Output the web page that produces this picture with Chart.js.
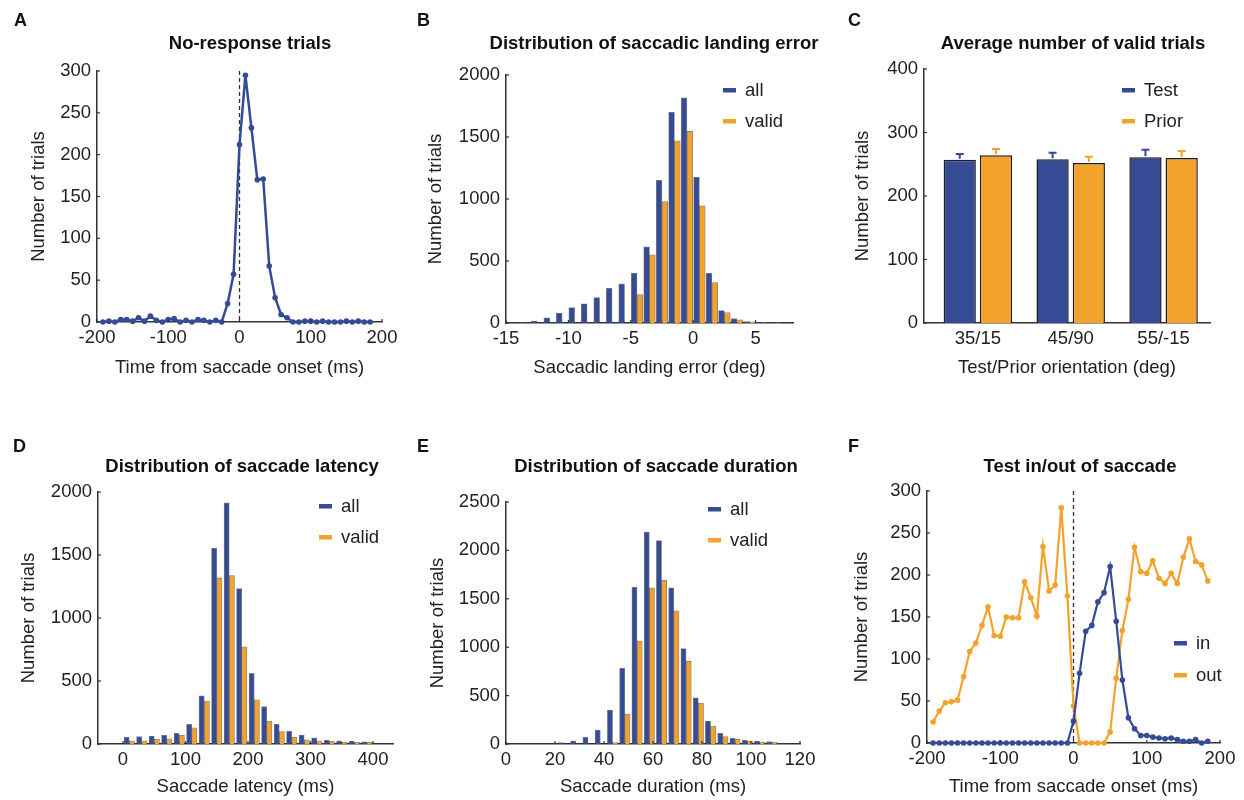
<!DOCTYPE html>
<html>
<head>
<meta charset="utf-8">
<title>Saccade task summary</title>
<script src="https://cdn.jsdelivr.net/npm/chart.js@4.4.1/dist/chart.umd.min.js"></script>
<style>
  body { margin: 0; background: #fff; }
  .panel { position: absolute; }
</style>
</head>
<body>
<div class="panel" style="left:0;top:0;width:414px;height:400px"><canvas id="chartA"></canvas></div>
<div class="panel" style="left:414px;top:0;width:414px;height:400px"><canvas id="chartB"></canvas></div>
<div class="panel" style="left:828px;top:0;width:416px;height:400px"><canvas id="chartC"></canvas></div>
<div class="panel" style="left:0;top:400px;width:414px;height:400px"><canvas id="chartD"></canvas></div>
<div class="panel" style="left:414px;top:400px;width:414px;height:400px"><canvas id="chartE"></canvas></div>
<div class="panel" style="left:828px;top:400px;width:416px;height:400px"><canvas id="chartF"></canvas></div>
<script>
const FONT = "'Liberation Sans', Arial, Helvetica, sans-serif";
const TEXT_SIZE = 18.5;
const BLUE = "#354b96";
const ORANGE = "#f3a22c";
const INK = "#222";
const AXIS = "#333";

// time bins (ms from saccade onset), shared by A and F
const timeBins = [
  -191.7, -183.3, -175, -166.7, -158.3, -150, -141.7, -133.3, -125, -116.7,
  -108.3, -100, -91.7, -83.3, -75, -66.7, -58.3, -50, -41.7, -33.3,
  -25, -16.7, -8.3, 0, 8.3, 16.7, 25, 33.3, 41.7, 50,
  58.3, 66.7, 75, 83.3, 91.7, 100, 108.3, 116.7, 125, 133.3,
  141.7, 150, 158.3, 166.7, 175, 183.3,
];

// A: no-response trials
const noResponse = [
  0, 1, 0, 3, 3, 1, 5, 1, 7, 2,
  0, 3, 4, 0, 2, 0, 3, 2, 0, 2,
  0, 22, 57, 212, 295, 232, 170, 171, 67, 29,
  9, 5, 0, 0, 1, 1, 0, 1, 0, 0,
  0, 1, 0, 1, 0, 0,
];

// B: saccadic landing error (deg)
const errorBins = [-14.5, -13.5, -12.5, -11.5, -10.5, -9.5, -8.5, -7.5, -6.5, -5.5, -4.5,
  -3.5, -2.5, -1.5, -0.5, 0.5, 1.5, 2.5, 3.5, 4.5, 5.5, 6.5];
const errorAll = [1, 5, 15, 42, 80, 125, 155, 205, 280, 315, 400,
  615, 1150, 1700, 1815, 1175, 400, 100, 35, 12, 5, 2];
const errorValid = [0, 0, 0, 0, 0, 0, 0, 0, 0, 0, 230,
  550, 980, 1470, 1545, 945, 325, 85, 25, 10, 3, 1];

// C: average number of valid trials
const orientations = ["35/15", "45/90", "55/-15"];
const orientationPos = [1, 2, 3];
const testMeans = [257, 258, 261];
const testErr = [9, 10, 12];
const priorMeans = [264, 252, 260];
const priorErr = [10, 10, 11];

// D: saccade latency (ms)
const latencyBins = [10, 30, 50, 70, 90, 110, 130, 150, 170, 190,
  210, 230, 250, 270, 290, 310, 330, 350, 370, 390];
const latencyAll = [53, 58, 63, 69, 85, 156, 383, 1553, 1915, 1234,
  560, 296, 156, 100, 71, 48, 32, 26, 24, 18];
const latencyValid = [26, 26, 37, 42, 69, 129, 341, 1318, 1337, 771,
  351, 180, 98, 53, 34, 26, 21, 13, 13, 13];

// E: saccade duration (ms)
const durationBins = [23.5, 28.5, 33.5, 38.5, 43.5, 48.5, 53.5, 58.5, 63.5,
  68.5, 73.5, 78.5, 83.5, 88.5, 93.5, 98.5, 103.5, 108.5];
const durationAll = [14, 34, 69, 144, 351, 781, 1620, 2190, 2101,
  1613, 987, 478, 237, 110, 58, 38, 31, 24];
const durationValid = [0, 0, 0, 0, 14, 310, 1063, 1613, 1692,
  1375, 853, 423, 186, 76, 48, 31, 21, 21];

// F: test in / out of saccade
const testIn = [
  0, 0, 0, 0, 0, 0, 0, 0, 0, 0,
  0, 0, 0, 0, 0, 0, 0, 0, 0, 0,
  0, 0, 0, 26, 83, 133, 140, 168, 179, 210,
  145, 75, 30, 17, 9, 9, 7, 6, 5, 6,
  4, 2, 2, 4, 0, 2,
];
const testOut = [
  25, 38, 48, 49, 51, 79, 109, 119, 140, 162,
  128, 127, 150, 149, 149, 192, 173, 151, 234, 181,
  188, 280, 175, 44, 0, 0, 0, 0, 0, 13,
  77, 134, 171, 233, 204, 202, 217, 196, 190, 202,
  190, 221, 243, 216, 212, 193,
];

// tick labels
const timeTicks = [-200, -100, 0, 100, 200];
const trialTicks300 = [0, 50, 100, 150, 200, 250, 300];
const errorTicks = [-15, -10, -5, 0, 5];
const countTicks2000 = [0, 500, 1000, 1500, 2000];
const countTicks2500 = [0, 500, 1000, 1500, 2000, 2500];
const trialTicks400 = [0, 100, 200, 300, 400];
const latencyTicks = [0, 100, 200, 300, 400];
const durationTicks = [0, 20, 40, 60, 80, 100, 120];

function toPoints(xs, ys) {
  return xs.map((x, i) => ({ x, y: ys[i] }));
}

// panel letter, title, legend, dashed zero line, inward ticks, error bars
const decor = {
  id: "decor",
  beforeDatasetsDraw(chart, args, o) {
    if (!o.zeroLine) return;
    const { ctx, chartArea } = chart;
    const x = chart.scales.x.getPixelForValue(0);
    ctx.save();
    ctx.strokeStyle = AXIS;
    ctx.lineWidth = 1.3;
    ctx.setLineDash([4, 3]);
    ctx.beginPath();
    ctx.moveTo(x, chartArea.top);
    ctx.lineTo(x, chartArea.bottom);
    ctx.stroke();
    ctx.restore();
  },
  afterDatasetsDraw(chart, args, o) {
    if (!o.errors) return;
    const ctx = chart.ctx;
    const y = chart.scales.y;
    ctx.save();
    ctx.lineWidth = 2;
    chart.data.datasets.forEach((ds, di) => {
      const meta = chart.getDatasetMeta(di);
      ctx.strokeStyle = o.legend.colors[di];
      meta.data.forEach((bar, i) => {
        const top = y.getPixelForValue(ds.data[i].y + o.errors[di][i]);
        ctx.beginPath();
        ctx.moveTo(bar.x, bar.y - 1);
        ctx.lineTo(bar.x, top);
        ctx.moveTo(bar.x - 4, top);
        ctx.lineTo(bar.x + 4, top);
        ctx.stroke();
      });
    });
    ctx.restore();
  },
  afterDraw(chart, args, o) {
    const { ctx, chartArea } = chart;
    ctx.save();

    // inward tick marks
    ctx.strokeStyle = AXIS;
    ctx.lineWidth = 1.2;
    ["x", "y"].forEach((id) => {
      const s = chart.scales[id];
      if (o.noXTicks && id === "x") return;
      s.ticks.forEach((t) => {
        const p = s.getPixelForValue(t.value);
        ctx.beginPath();
        if (id === "x") {
          ctx.moveTo(p, chartArea.bottom);
          ctx.lineTo(p, chartArea.bottom - 3);
        } else {
          ctx.moveTo(chartArea.left, p);
          ctx.lineTo(chartArea.left + 3, p);
        }
        ctx.stroke();
      });
    });

    ctx.fillStyle = "#111";
    ctx.textBaseline = "middle";
    ctx.textAlign = "left";
    ctx.font = "bold 18px " + FONT;
    ctx.fillText(o.letter, o.letterX, o.letterY);

    ctx.textAlign = "center";
    ctx.font = "bold 18.5px " + FONT;
    ctx.fillText(o.title, o.titleX, o.titleY);

    if (o.legend) {
      const lg = o.legend;
      ctx.textAlign = "left";
      ctx.font = TEXT_SIZE + "px " + FONT;
      chart.data.datasets.forEach((ds, i) => {
        const y = lg.y + i * lg.gap;
        ctx.fillStyle = lg.colors[i];
        ctx.fillRect(lg.x, y - 2, 13, 4.5);
        ctx.fillStyle = INK;
        ctx.fillText(ds.label, lg.x + 22, y + 1);
      });
    }
    ctx.restore();
  },
};

// works out padding and fixed axis sizes so the plot box lands where it should
function frame(w, h, box) {
  const half = (TEXT_SIZE * 1.2) / 2;
  const left = box.yTitleX - half;
  const bottom = box.xTitleY + half;
  return {
    padding: { left, right: w - box.R, top: box.T, bottom: h - bottom },
    ySize: box.L - left,
    xSize: bottom - box.B,
  };
}

function makeScale({ min, max, ticks, labels, title, size, horizontal }) {
  return {
    type: "linear",
    offset: false,
    min,
    max,
    grid: { display: false, drawTicks: false },
    border: { display: true, color: AXIS, width: 1.5 },
    ticks: {
      color: INK,
      font: { family: FONT, size: TEXT_SIZE },
      padding: horizontal ? 5 : 6,
      autoSkip: false,
      maxRotation: 0,
      callback: (v, i) => (labels ? labels[i] : String(v)),
    },
    title: {
      display: true,
      text: title,
      color: INK,
      font: { family: FONT, size: TEXT_SIZE },
      padding: 0,
    },
    afterBuildTicks(s) {
      s.ticks = ticks.map((v) => ({ value: v }));
    },
    afterFit(s) {
      if (horizontal) s.height = size;
      else s.width = size;
    },
  };
}

function lineSet(label, xs, ys, color, width) {
  return {
    label,
    data: toPoints(xs, ys),
    borderColor: color,
    backgroundColor: color,
    borderWidth: width,
    pointRadius: 2.8,
    pointBorderWidth: 0,
    pointBackgroundColor: color,
    tension: 0,
    clip: false,
  };
}

function histSet(label, xs, ys, color) {
  return {
    label,
    data: toPoints(xs, ys),
    backgroundColor: color,
    borderColor: "rgba(45, 45, 45, 0.6)",
    borderWidth: 0.8,
    borderSkipped: "bottom",
  };
}

function panelChart(id, w, h, box, cfg) {
  const f = frame(w, h, box);
  return new Chart(document.getElementById(id), {
    type: cfg.type,
    data: cfg.data,
    plugins: [decor],
    options: {
      responsive: true,
      maintainAspectRatio: false,
      animation: false,
      layout: { padding: f.padding },
      datasets: cfg.datasetOptions || {},
      scales: {
        x: makeScale({ ...cfg.x, size: f.xSize, horizontal: true }),
        y: makeScale({ ...cfg.y, size: f.ySize, horizontal: false }),
      },
      plugins: {
        legend: { display: false },
        tooltip: { enabled: false },
        decor: cfg.decor,
      },
    },
  });
}

// A
panelChart("chartA", 414, 400,
  { L: 97, R: 382, T: 71, B: 322, yTitleX: 39, xTitleY: 368 },
  {
    type: "line",
    data: { datasets: [lineSet("no response", timeBins, noResponse, BLUE, 2.5)] },
    x: { min: -200, max: 200, ticks: timeTicks, title: "Time from saccade onset (ms)" },
    y: { min: 0, max: 300, ticks: trialTicks300, title: "Number of trials" },
    decor: { letter: "A", letterX: 14, letterY: 21, title: "No-response trials", titleX: 250, titleY: 44, zeroLine: true },
  });

// B
panelChart("chartB", 414, 400,
  { L: 92, R: 379, T: 75, B: 323, yTitleX: 22, xTitleY: 368 },
  {
    type: "bar",
    data: {
      datasets: [
        histSet("all", errorBins, errorAll, BLUE),
        histSet("valid", errorBins, errorValid, ORANGE),
      ],
    },
    datasetOptions: { bar: { barThickness: 5.8 } },
    x: { min: -15, max: 8, ticks: errorTicks, title: "Saccadic landing error (deg)" },
    y: { min: 0, max: 2000, ticks: countTicks2000, title: "Number of trials" },
    decor: {
      letter: "B", letterX: 3, letterY: 21, title: "Distribution of saccadic landing error", titleX: 240, titleY: 44,
      legend: { x: 309, y: 90, gap: 31, colors: [BLUE, ORANGE] },
    },
  });

// C
panelChart("chartC", 416, 400,
  { L: 96, R: 382, T: 69, B: 323, yTitleX: 35, xTitleY: 368 },
  {
    type: "bar",
    data: {
      datasets: [
        { label: "Test", data: toPoints(orientationPos, testMeans), backgroundColor: BLUE, borderColor: "#1d1d1d", borderWidth: 1.5 },
        { label: "Prior", data: toPoints(orientationPos, priorMeans), backgroundColor: ORANGE, borderColor: "#1d1d1d", borderWidth: 1.5 },
      ],
    },
    datasetOptions: { bar: { categoryPercentage: 0.78, barPercentage: 0.89 } },
    x: { min: 0.42, max: 3.5, ticks: orientationPos, labels: orientations, title: "Test/Prior orientation (deg)" },
    y: { min: 0, max: 400, ticks: trialTicks400, title: "Number of trials" },
    decor: {
      letter: "C", letterX: 20, letterY: 21, title: "Average number of valid trials", titleX: 245, titleY: 44,
      legend: { x: 294, y: 90, gap: 31, colors: [BLUE, ORANGE] },
      errors: [testErr, priorErr],
      noXTicks: true,
    },
  });

// D
panelChart("chartD", 414, 400,
  { L: 98, R: 393, T: 92, B: 344, yTitleX: 29, xTitleY: 387 },
  {
    type: "bar",
    data: {
      datasets: [
        histSet("all", latencyBins, latencyAll, BLUE),
        histSet("valid", latencyBins, latencyValid, ORANGE),
      ],
    },
    datasetOptions: { bar: { barThickness: 5.2 } },
    x: { min: -40, max: 432, ticks: latencyTicks, title: "Saccade latency (ms)" },
    y: { min: 0, max: 2000, ticks: countTicks2000, title: "Number of trials" },
    decor: {
      letter: "D", letterX: 13, letterY: 47, title: "Distribution of saccade latency", titleX: 242, titleY: 67,
      legend: { x: 319, y: 106, gap: 31, colors: [BLUE, ORANGE] },
    },
  });

// E
panelChart("chartE", 414, 400,
  { L: 92, R: 386, T: 102, B: 344, yTitleX: 24, xTitleY: 387 },
  {
    type: "bar",
    data: {
      datasets: [
        histSet("all", durationBins, durationAll, BLUE),
        histSet("valid", durationBins, durationValid, ORANGE),
      ],
    },
    datasetOptions: { bar: { barThickness: 5.2 } },
    x: { min: 0, max: 120, ticks: durationTicks, title: "Saccade duration (ms)" },
    y: { min: 0, max: 2500, ticks: countTicks2500, title: "Number of trials" },
    decor: {
      letter: "E", letterX: 3, letterY: 47, title: "Distribution of saccade duration", titleX: 242, titleY: 67,
      legend: { x: 294, y: 109, gap: 31, colors: [BLUE, ORANGE] },
    },
  });

// F
panelChart("chartF", 416, 400,
  { L: 99, R: 392, T: 91, B: 343, yTitleX: 34, xTitleY: 387 },
  {
    type: "line",
    data: {
      datasets: [
        lineSet("in", timeBins, testIn, BLUE, 2.2),
        lineSet("out", timeBins, testOut, ORANGE, 2.2),
      ],
    },
    x: { min: -200, max: 200, ticks: timeTicks, title: "Time from saccade onset (ms)" },
    y: { min: 0, max: 300, ticks: trialTicks300, title: "Number of trials" },
    decor: {
      letter: "F", letterX: 20, letterY: 47, title: "Test in/out of saccade", titleX: 252, titleY: 67,
      zeroLine: true,
      legend: { x: 346, y: 243, gap: 32, colors: [BLUE, ORANGE] },
    },
  });
</script>
</body>
</html>
